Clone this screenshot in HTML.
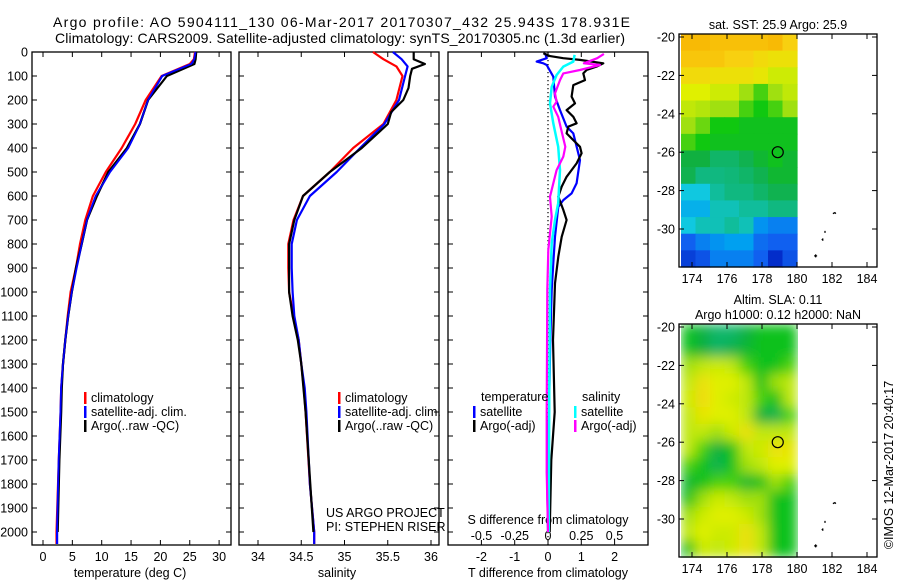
<!DOCTYPE html>
<html><head><meta charset="utf-8">
<style>
body{margin:0;background:#fff;}
svg{display:block;font-family:"Liberation Sans",sans-serif;}
text{font-size:12.5px;fill:#000;}
</style></head>
<body>
<svg id="fig" width="900" height="580" viewBox="0 0 900 580">
<g id="titles">
<text x="53" y="27" textLength="577" lengthAdjust="spacing" style="font-size:14px">Argo profile: AO 5904111_130 06-Mar-2017 20170307_432 25.943S 178.931E</text>
<text x="55" y="43" textLength="570" lengthAdjust="spacing" style="font-size:14px">Climatology: CARS2009. Satellite-adjusted climatology: synTS_20170305.nc (1.3d earlier)</text>
</g>
<g id="root"></g>
</svg>
<script>
// ---------- data ----------
const depthTicks=[0,100,200,300,400,500,600,700,800,900,1000,1100,1200,1300,1400,1500,1600,1700,1800,1900,2000];
const tempTicks=[0,5,10,15,20,25,30];
const salTicks=[34,34.5,35,35.5,36];
const salTickLabels=["34","34.5","35","35.5","36"];
const tdiffTicks=[-2,-1,0,1,2];
const sdiffTicks=[-0.5,-0.25,0,0.25,0.5];
const sdiffTickLabels=["-0.5","-0.25","0","0.25","0.5"];

const tempDepth=[0,30,50,100,200,300,400,500,600,700,800,900,1000,1100,1200,1300,1400,1500,1700,2000,2050];
const tempClim=[25.9,25.7,25.0,20.2,17.5,15.7,13.4,10.7,8.5,7.2,6.3,5.6,4.7,4.2,3.8,3.4,3.1,3.0,2.7,2.3,2.3];
const tempSat=[26.0,25.8,25.3,20.3,17.9,16.5,14.5,11.4,9.0,7.5,6.6,5.7,4.9,4.3,3.8,3.4,3.1,3.0,2.7,2.4,2.4];
const tempArgo=[26.1,26.0,25.8,21.1,17.9,16.5,14.3,11.1,9.2,7.5,6.6,5.6,4.9,4.3,3.8,3.4,3.2,3.1,2.8,2.5];
const argoTDepth=[0,30,50,100,200,300,400,500,600,700,800,900,1000,1100,1200,1300,1400,1500,1700,2000];

const salDepth=[0,30,60,100,200,300,400,500,600,700,800,900,1000,1100,1200,1300,1400,1500,1800,2000,2050];
const salClim=[35.33,35.45,35.6,35.67,35.6,35.45,35.1,34.83,34.52,34.41,34.35,34.35,34.36,34.41,34.47,34.5,34.53,34.55,34.6,34.65,34.65];
const salSat=[35.56,35.66,35.73,35.7,35.63,35.46,35.18,34.91,34.6,34.45,34.39,34.39,34.4,34.42,34.47,34.5,34.54,34.56,34.6,34.65,34.65];
const argoSDepth=[0,30,50,70,100,150,200,250,300,400,500,600,700,800,1000,1100,1200,1300,1500,2000];
const salArgo=[35.8,35.8,35.93,35.78,35.76,35.74,35.68,35.54,35.5,35.2,34.83,34.52,34.42,34.36,34.36,34.4,34.46,34.5,34.55,34.64];

const tSatDepth=[5,26,40,47,54,103,186,242,311,339,422,450,547,589,617,645,770,880,992,1200,1500,1750,2000];
const tSatDiff=[-0.09,-0.04,-0.34,-0.14,-0.04,0.16,0.21,0.36,0.56,0.76,0.91,0.96,0.86,0.71,0.46,0.31,0.21,0.16,0.11,0.07,0.03,-0.03,0.0];
const tArgoDepth=[5,17,26,33,47,61,75,89,117,138,186,214,242,270,297,311,339,367,395,422,464,520,561,603,658,700,770,853,964,1200,1500,1700,2000];
const tArgoDiff=[-0.14,0.06,0.46,0.96,1.66,1.46,1.16,1.06,1.11,0.76,0.71,0.81,0.56,0.76,0.86,0.61,0.56,0.76,0.96,1.01,0.86,0.56,0.41,0.31,0.46,0.56,0.41,0.31,0.21,0.15,0.2,0.1,0.05];
const sSatDepth=[12,40,61,96,145,214,297,395,492,630,700,797,992,1400,2000];
const sSatDiff=[0.2,0.19,0.115,0.065,0.028,0.015,0.04,0.077,0.09,0.077,0.053,0.028,0.015,0.01,0.005];
const sArgoDepth=[8,26,47,54,68,75,89,117,172,207,228,270,325,395,436,492,547,603,686,825,992,1500,1750,2000];
const sArgoDiff=[0.42,0.37,0.27,0.39,0.29,0.24,0.115,0.09,0.053,0.065,0.04,0.077,0.1,0.13,0.115,0.065,0.04,0.015,0.028,0.002,-0.005,-0.01,-0.01,0.0];

const lonTicks=[174,176,178,180,182,184];
const latTicks=[-20,-22,-24,-26,-28,-30];
const latTickLabels=["-20","-22","-24","-26","-28","-30"];
const sstGrid=[
[0.82,0.82,0.8,0.8,0.8,0.8,0.82,0.75],
[0.78,0.78,0.78,0.75,0.75,0.72,0.7,0.7],
[0.72,0.72,0.7,0.7,0.7,0.68,0.62,0.62],
[0.65,0.65,0.62,0.62,0.55,0.5,0.55,0.6],
[0.6,0.58,0.55,0.55,0.5,0.47,0.5,0.55],
[0.55,0.52,0.47,0.47,0.45,0.45,0.45,0.45],
[0.5,0.47,0.45,0.45,0.45,0.45,0.45,0.45],
[0.4,0.4,0.35,0.35,0.38,0.42,0.45,0.42],
[0.38,0.32,0.32,0.33,0.35,0.38,0.42,0.42],
[0.25,0.25,0.3,0.32,0.32,0.35,0.38,0.38],
[0.22,0.22,0.28,0.28,0.3,0.3,0.32,0.32],
[0.25,0.28,0.28,0.3,0.28,0.18,0.15,0.15],
[0.1,0.15,0.18,0.2,0.2,0.12,0.1,0.1],
[0.05,0.08,0.15,0.15,0.15,0.1,0.02,0.08]];
const slaGrid=[
[0.45,0.4,0.35,0.35,0.4,0.45,0.45,0.45],
[0.45,0.4,0.35,0.38,0.42,0.45,0.45,0.45],
[0.55,0.6,0.62,0.6,0.5,0.45,0.45,0.5],
[0.6,0.7,0.65,0.65,0.6,0.45,0.55,0.6],
[0.62,0.72,0.65,0.62,0.6,0.5,0.45,0.6],
[0.6,0.68,0.65,0.65,0.6,0.4,0.38,0.5],
[0.6,0.6,0.55,0.62,0.7,0.6,0.6,0.6],
[0.6,0.5,0.4,0.45,0.6,0.62,0.7,0.68],
[0.5,0.45,0.38,0.45,0.55,0.6,0.65,0.65],
[0.42,0.45,0.5,0.5,0.42,0.45,0.55,0.5],
[0.45,0.55,0.62,0.6,0.55,0.55,0.45,0.45],
[0.55,0.62,0.65,0.65,0.62,0.55,0.45,0.45],
[0.6,0.65,0.62,0.62,0.7,0.6,0.45,0.45],
[0.45,0.62,0.6,0.62,0.7,0.6,0.45,0.45]];
const argoLon=[178.9];
const argoLat=[-26.0];

// ---------- helpers ----------
const NS="http://www.w3.org/2000/svg";
const root=document.getElementById('root');
function mk(tag,attrs,parent,txt){const e=document.createElementNS(NS,tag);for(const k in attrs)e.setAttribute(k,attrs[k]);if(txt!==undefined)e.textContent=txt;(parent||root).appendChild(e);return e;}
const yD=d=>52+0.24*d;
const xT=t=>43+5.87*t;
const xS=s=>258+86.5*(s-34);
const xTd=t=>548+33.3*t;
const xSd=s=>548+133*s;

function line(xs,ds,xf,color,name,g,w){
  let p=xs.map((v,i)=>xf(v).toFixed(1)+','+yD(ds[i]).toFixed(1)).join(' ');
  const el=mk('polyline',{points:p,fill:'none',stroke:color,'stroke-width':w||2.2,'stroke-linejoin':'round'},g);
  
  
}
function panel(x0,x1,name){
  const g=mk('g',{});
  
  
  const r=mk('rect',{x:x0,y:52,width:x1-x0,height:493,fill:'none',stroke:'#000','stroke-width':1.3},g);
  
  
  return g;
}
function xTicks(g,vals,labels,xf,ly){
  vals.forEach((v,i)=>{const x=xf(v);
    mk('line',{x1:x,x2:x,y1:52,y2:57,stroke:'#000'},g);
    mk('line',{x1:x,x2:x,y1:545,y2:540,stroke:'#000'},g);
    if(labels){const t=mk('text',{x:x,y:ly,'text-anchor':'middle'},g,labels[i]);
      
      }
  });
}
function yTicks(g,x0,x1,labels){
  depthTicks.forEach(d=>{const y=yD(d);
    mk('line',{x1:x0,x2:x0+5,y1:y,y2:y,stroke:'#000'},g);
    mk('line',{x1:x1,x2:x1-5,y1:y,y2:y,stroke:'#000'},g);
    if(labels){const t=mk('text',{x:28,y:y+4.5,'text-anchor':'end'},g,String(d));
      
      }
  });
}
function legend(g,x,y,color,label){
  mk('rect',{x:x,y:y-10,width:2.5,height:12,fill:color},g);
  const t=mk('text',{x:x+7,y:y},g,label);
  
  
}

// ---------- panel 1: temperature ----------
const g1=panel(32,231,'temperature-panel');
yTicks(g1,32,231,true);
xTicks(g1,tempTicks,tempTicks.map(String),xT,561);
line(tempClim,tempDepth,xT,'#f00','temp-climatology-line',g1);
line(tempSat,tempDepth,xT,'#00f','temp-satellite-line',g1);
line(tempArgo,argoTDepth,xT,'#000','temp-argo-line',g1);
line(tempSat,tempDepth,xT,'#00f','temp-satellite-line-top',g1,1.6);
legend(g1,84,402,'#f00','climatology');
legend(g1,84,416,'#00f','satellite-adj. clim.');
legend(g1,84,430,'#000','Argo(..raw -QC)');
{const t=mk('text',{x:130,y:577,'text-anchor':'middle'},g1,'temperature (deg C)');}

// ---------- panel 2: salinity ----------
const g2=panel(239,439,'salinity-panel');
yTicks(g2,239,439,false);
xTicks(g2,salTicks,salTickLabels,xS,561);
line(salClim,salDepth,xS,'#f00','sal-climatology-line',g2);
line(salSat,salDepth,xS,'#00f','sal-satellite-line',g2);
line(salArgo,argoSDepth,xS,'#000','sal-argo-line',g2);
legend(g2,338,402,'#f00','climatology');
legend(g2,338,416,'#00f','satellite-adj. clim.');
legend(g2,338,430,'#000','Argo(..raw -QC)');
mk('text',{x:326,y:517},g2,'US ARGO PROJECT');
mk('text',{x:326,y:531},g2,'PI: STEPHEN RISER');
{const t=mk('text',{x:337,y:577,'text-anchor':'middle'},g2,'salinity');}

// ---------- panel 3: differences ----------
const g3=panel(448,648,'difference-panel');
depthTicks.forEach(d=>{const y=yD(d);mk('line',{x1:648,x2:643,y1:y,y2:y,stroke:'#000'},g3);mk('line',{x1:448,x2:453,y1:y,y2:y,stroke:'#000'},g3);});
xTicks(g3,tdiffTicks,tdiffTicks.map(String),xTd,561);
mk('line',{x1:xTd(0),x2:xTd(0),y1:52,y2:545,stroke:'#000','stroke-dasharray':'1.2,2.8','stroke-width':1.2},g3);
sdiffTicks.forEach((v,i)=>{const t=mk('text',{x:xSd(v),y:540,'text-anchor':'middle'},g3,sdiffTickLabels[i]);});
mk('text',{x:548,y:524,'text-anchor':'middle'},g3,'S difference from climatology');
line(tSatDiff,tSatDepth,xTd,'#00f','t-satellite-diff-line',g3);
line(tArgoDiff,tArgoDepth,xTd,'#000','t-argo-diff-line',g3);
line(sSatDiff,sSatDepth,xSd,'#0ff','s-satellite-diff-line',g3,2.5);
line(sArgoDiff,sArgoDepth,xSd,'#f0f','s-argo-diff-line',g3);
mk('text',{x:481,y:401},g3,'temperature');
mk('text',{x:582,y:401},g3,'salinity');
legend(g3,473,416,'#00f','satellite');
legend(g3,473,430,'#000','Argo(-adj)');
legend(g3,574,416,'#0ff','satellite');
legend(g3,574,430,'#f0f','Argo(-adj)');
{const t=mk('text',{x:548,y:577,'text-anchor':'middle'},g3,'T difference from climatology');}

// ---------- maps ----------
const cstops=[[0,[0,32,192]],[0.1,[16,96,240]],[0.2,[0,160,240]],[0.25,[16,200,224]],[0.32,[16,184,128]],[0.4,[16,176,64]],[0.47,[16,200,16]],[0.55,[160,224,16]],[0.65,[224,240,0]],[0.75,[248,208,16]],[0.85,[248,176,0]],[1,[240,140,0]]];
function cmap(v){for(let i=1;i<cstops.length;i++){if(v<=cstops[i][0]){const a=cstops[i-1],b=cstops[i];const f=(v-a[0])/(b[0]-a[0]);const c=a[1].map((x,k)=>Math.round(x+f*(b[1][k]-x)));return `rgb(${c})`;}}return 'rgb(240,140,0)';}
function map(y0,grid,title,name,blur){
  const g=mk('g',{});
  
  
  const xL=lon=>692+17.5*(lon-174);
  const yL=lat=>y0+3+19.2*(-20-lat);
  const x0=679,x1=877,yTop=y0,yBot=y0+233;
  const dx0=681,dx1=xL(180),rows=grid.length,cols=grid[0].length;
  const cw=(dx1-dx0)/cols,ch=(yBot-yTop)/rows;
  const cg=mk('g',blur?{filter:'url(#blur)'}:{},g);
  grid.forEach((row,r)=>row.forEach((v,c)=>{
    const cell=mk('rect',{x:dx0+c*cw,y:yTop+r*ch,width:cw+0.6,height:ch+0.6,fill:cmap(v)},cg);
    
    
  }));
  mk('rect',{x:x0,y:yTop,width:x1-x0,height:yBot-yTop,fill:'none',stroke:'#000','stroke-width':1.3},g);
  lonTicks.forEach(l=>{const x=xL(l);mk('line',{x1:x,x2:x,y1:yTop,y2:yTop+5,stroke:'#000'},g);mk('line',{x1:x,x2:x,y1:yBot,y2:yBot-5,stroke:'#000'},g);
    const t=mk('text',{x:x,y:yBot+16,'text-anchor':'middle'},g,String(l));});
  latTicks.forEach((l,i)=>{const y=yL(l);mk('line',{x1:x0,x2:x0+5,y1:y,y2:y,stroke:'#000'},g);mk('line',{x1:x1,x2:x1-5,y1:y,y2:y,stroke:'#000'},g);
    const t=mk('text',{x:675,y:y+4.5,'text-anchor':'end'},g,latTickLabels[i]);});
  argoLon.forEach((lo,i)=>{const c=mk('circle',{cx:xL(lo),cy:yL(argoLat[i]),r:5.5,fill:'none',stroke:'#000','stroke-width':1.2},g);});
  mk('path',{d:`M${xL(182.05)} ${yL(-29.2)} l2 -1 l1 1 M${xL(181.6)} ${yL(-30.1)} l0 2 M${xL(181.5)} ${yL(-30.5)} l-1 1 l1 1 M${xL(181.15)} ${yL(-31.4)} l-3 0 m1.5 -1.5 l0 3`,stroke:'#000',fill:'none','stroke-width':1.3},g);
  title.forEach((t,i)=>mk('text',{x:778,y:y0-(title.length-i)*15+10,'text-anchor':'middle'},g,t));
}
mk('defs',{}).innerHTML='<filter id="blur" x="0" y="0" width="1" height="1"><feGaussianBlur stdDeviation="6" edgeMode="duplicate"/></filter>';
map(34,sstGrid,['sat. SST: 25.9 Argo: 25.9'],'sst-map',false);
map(324,slaGrid,['Altim. SLA: 0.11','Argo h1000: 0.12 h2000: NaN'],'sla-map',true);
{const t=mk('text',{x:0,y:0,transform:'translate(893,465) rotate(-90)','text-anchor':'middle'},null,'©IMOS 12-Mar-2017 20:40:17');}
</script>
</body></html>
